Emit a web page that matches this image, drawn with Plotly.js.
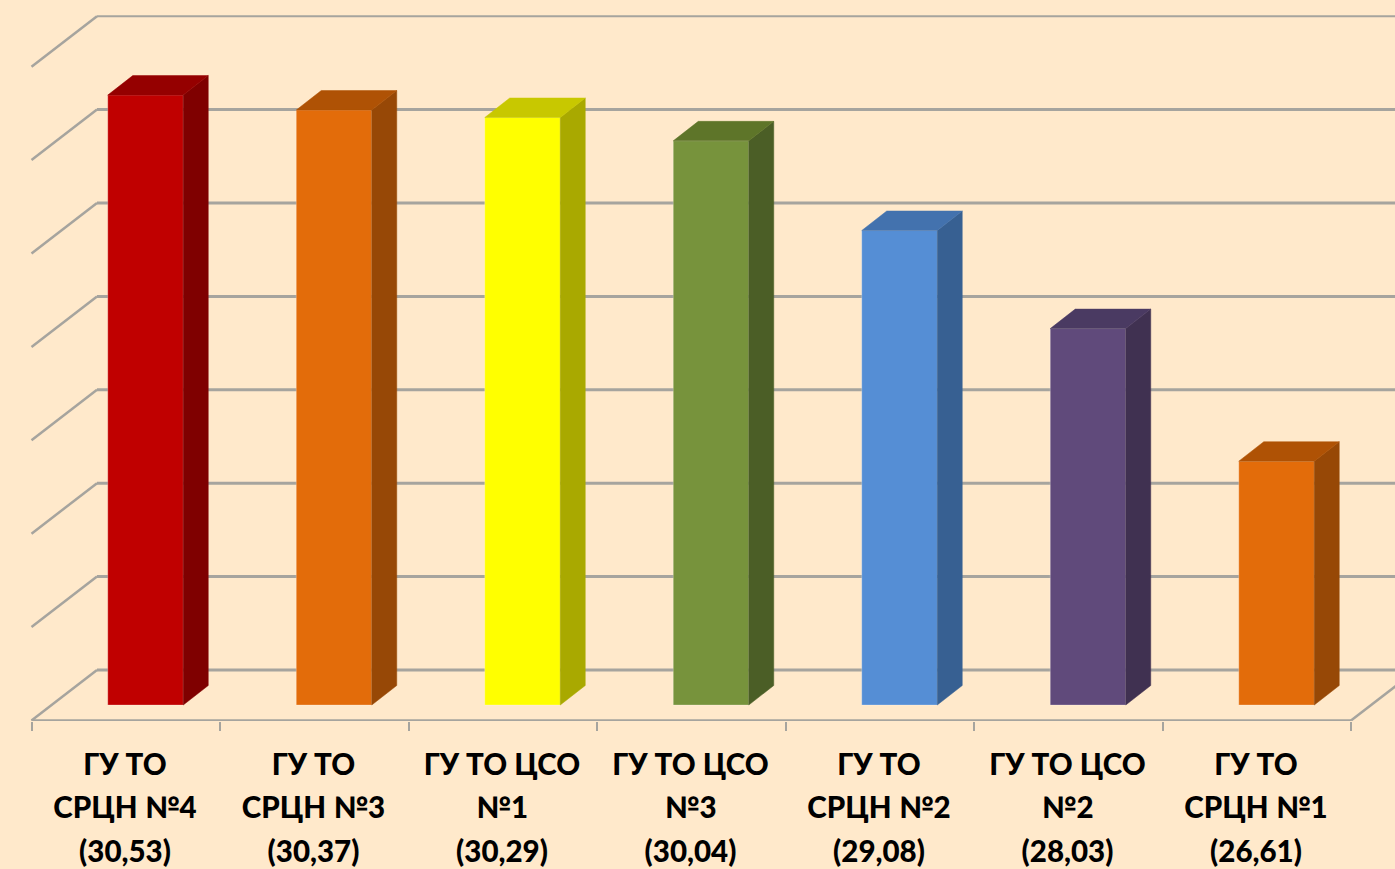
<!DOCTYPE html>
<html><head><meta charset="utf-8">
<script src="https://cdn.plot.ly/plotly-3.0.1.min.js"></script>
<style>html,body{margin:0;padding:0;background:#FFE9CB;overflow:hidden}#c{width:1395px;height:869px}</style>
</head><body><div id="c"></div>
<script>
const labelLines = [['ГУ ТО','СРЦН №4','(30,53)'],['ГУ ТО','СРЦН №3','(30,37)'],['ГУ ТО ЦСО','№1','(30,29)'],['ГУ ТО ЦСО','№3','(30,04)'],['ГУ ТО','СРЦН №2','(29,08)'],['ГУ ТО ЦСО','№2','(28,03)'],['ГУ ТО','СРЦН №1','(26,61)']];
const values = [30.53,30.37,30.29,30.04,29.08,28.03,26.61];
const frontColors = ['#C00000','#E36C0A','#FFFF00','#77933C','#558ED5','#604A7B','#E36C0A'];
const sideColors = ['#7F0000','#974806','#A9A900','#4B5E26','#376092','#403151','#974806'];
const topColors = ['#950000','#AF5205','#C8C800','#5E7529','#4372AE','#4A3A62','#AF5205'];
const gridValues = [24,25,26,27,28,29,30,31];
const baseValue = 24;

const W = 1395, H = 869, plotBottom = 721;
const pxX = 188.5, pxY = 93.4, x0 = 145.5, y0 = 705;
const ux = p => p / pxX, uy = p => p / pxY;
const barW = ux(75.5), barDx = ux(25), barDy = uy(19.5);
const frontLeft = ux(31.5 - x0), frontRight = ux(1351 - x0), depthX = ux(65.5);
const frontY = uy(-15.5), backY = uy(35);
const n = values.length;
const idx = values.map((_, i) => i);
const labels = labelLines.map(ls => ls.map(t => '<span style="font-size:29.5px">' + t + '</span>').join('<br>'));

const traces = [{
  type: 'bar', x: idx, y: values.map(v => v - baseValue), base: baseValue, width: barW,
  marker: {color: frontColors, line: {color: 'rgba(255,255,255,0.25)', width: 1}},
  hoverinfo: 'skip', showlegend: false
}];
idx.forEach(i => {
  const l = i - barW / 2, r = i + barW / 2, v = values[i];
  traces.push({type: 'scatter', mode: 'lines', x: [r, r + barDx, r + barDx, r, r],
    y: [baseValue, baseValue + barDy, v + barDy, v, baseValue], fill: 'toself',
    fillcolor: sideColors[i], line: {width: 0.5, color: sideColors[i]}, hoverinfo: 'skip', showlegend: false});
  traces.push({type: 'scatter', mode: 'lines', x: [l, r, r + barDx, l + barDx, l],
    y: [v, v, v + barDy, v + barDy, v], fill: 'toself',
    fillcolor: topColors[i], line: {width: 0.5, color: topColors[i]}, hoverinfo: 'skip', showlegend: false});
});

const gridColor = '#A6A49E';
const seg = (x1, y1, x2, y2, w) => ({type: 'line', layer: 'below', xref: 'x', yref: 'y', x0: x1, y0: y1, x1: x2, y1: y2, line: {color: gridColor, width: w}});
const shapes = [];
gridValues.forEach((g, k) => {
  const w = k === gridValues.length - 1 ? 2 : 3;
  shapes.push(seg(frontLeft, g + frontY, frontLeft + depthX, g + backY, 2.5));
  shapes.push(seg(frontLeft + depthX, g + backY, frontRight + depthX, g + backY, w));
});
shapes.push(seg(frontLeft, baseValue + frontY, frontRight, baseValue + frontY, 2.5));
shapes.push(seg(frontRight, baseValue + frontY, frontRight + depthX, baseValue + backY, 2.5));

const tickBounds = Array.from({length: n + 1}, (_, k) => frontLeft + k * (frontRight - frontLeft) / n);

Plotly.newPlot('c', traces, {
  width: W, height: H, margin: {l: 0, r: 0, t: 0, b: H - plotBottom, pad: 0},
  paper_bgcolor: '#FFE9CB', plot_bgcolor: '#FFE9CB', showlegend: false, shapes,
  bargap: 0,
  xaxis: {
    range: [ux(-x0), ux(W - x0)], tickmode: 'array', tickvals: idx.map(i => i + ux(-20.5)), ticktext: labels,
    ticks: '', showgrid: false, zeroline: false, showline: false, tickangle: 0, automargin: false,
    ticklabelstandoff: 19,
    tickfont: {family: 'Lato, "Open Sans", sans-serif', size: 33.5, color: '#000', weight: 900},
    minor: {tickmode: 'array', tickvals: tickBounds, ticks: 'outside', ticklen: 9, tickwidth: 2, tickcolor: gridColor, showgrid: false}
  },
  yaxis: {
    range: [baseValue - uy(plotBottom - y0), baseValue + uy(y0)], showticklabels: false, ticks: '',
    showgrid: false, zeroline: false, showline: false, automargin: false
  }
}, {displayModeBar: false, staticPlot: true});
</script></body></html>
